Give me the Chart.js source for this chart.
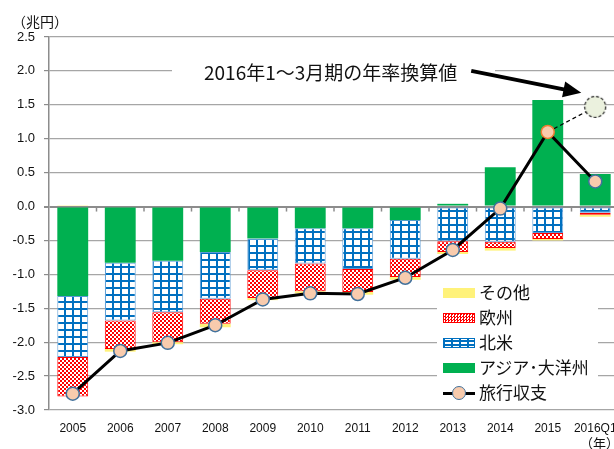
<!DOCTYPE html>
<html>
<head>
<meta charset="utf-8">
<script src="https://cdn.jsdelivr.net/npm/chart.js@4"></script>
<style>
  body { margin: 0; background: #fff; }
  #wrap { position: relative; width: 614px; height: 449px; overflow: hidden; font-family: "Noto Sans CJK JP", sans-serif; color: #111; }
  #c { position: absolute; left: 0; top: 0; }
  .txt { position: absolute; white-space: nowrap; }
  #unit { left: 12px; top: 11px; font-size: 14px; }
  #year { left: 580px; top: 433px; font-size: 13px; }
  #note { left: 204px; top: 59px; font-size: 19px; line-height: 26px; }
  #legend { position: absolute; left: 437px; top: 281px; width: 161px; height: 124px; background: #fff; }
  .item { position: absolute; left: 6px; height: 24px; font-size: 17px; line-height: 24px; }
  .sw { position: absolute; left: 0; top: 7px; width: 32px; height: 10px; box-sizing: border-box; }
  .item span.lab { position: absolute; left: 36px; top: -1px; white-space: nowrap; }
</style>
</head>
<body>
<div id="wrap">
  <canvas id="c" width="619" height="449"></canvas>
  <div class="txt" id="unit">（兆円）</div>
  <div class="txt" id="year">（年）</div>
  <div class="txt" id="note">2016年1～3月期の年率換算値</div>
  <div id="legend">
    <div class="item" style="top:0px"><div class="sw" style="background:#FFF27A"></div><span class="lab">その他</span></div>
    <div class="item" style="top:25px"><div class="sw" style="border:1px solid #f00;background-color:#fff;background-image:conic-gradient(#f00 25%,#fff 0 50%,#f00 0 75%,#fff 0);background-size:3px 3px"></div><span class="lab">欧州</span></div>
    <div class="item" style="top:50px"><div class="sw" style="border:1.5px solid #0070C0;background-color:#fff;background-image:linear-gradient(#0070C0 2px,transparent 2px),linear-gradient(90deg,#0070C0 2px,transparent 2px);background-size:8px 4px;background-position:-1px 1px"></div><span class="lab">北米</span></div>
    <div class="item" style="top:75px"><div class="sw" style="background:#00B050"></div><span class="lab">アジア･大洋州</span></div>
    <div class="item" style="top:100px">
      <div class="sw" style="top:11px;height:3px;background:#000"></div>
      <div class="sw" style="left:9px;top:5px;width:14px;height:14px;border-radius:50%;background:#F8CBAD;border:1.5px solid #41719C"></div>
      <span class="lab">旅行収支</span>
    </div>
  </div>
</div>
<script>
const years = ["2005", "2006", "2007", "2008", "2009", "2010", "2011", "2012", "2013", "2014", "2015", "2016Q1"];
const asiaOceania = [-1.32, -0.83, -0.80, -0.67, -0.47, -0.32, -0.32, -0.20, 0.04, 0.58, 1.57, 0.48];
const northAmerica = [-0.90, -0.85, -0.76, -0.69, -0.47, -0.52, -0.60, -0.57, -0.51, -0.52, -0.39, -0.09];
const europe = [-0.58, -0.42, -0.44, -0.37, -0.41, -0.41, -0.34, -0.27, -0.16, -0.09, -0.09, -0.03];
const others = [0.02, -0.04, -0.03, -0.05, -0.03, -0.03, -0.04, -0.04, -0.03, -0.04, -0.02, -0.03];
const travelBalance = [-2.76, -2.13, -2.01, -1.75, -1.37, -1.28, -1.29, -1.05, -0.64, -0.03, 1.10, 0.37];
const annualized = [null, null, null, null, null, null, null, null, null, null, 1.10, 1.47];
const yTicks = [-3.0, -2.5, -2.0, -1.5, -1.0, -0.5, 0.0, 0.5, 1.0, 1.5, 2.0, 2.5];

// patterns
function makePattern(w, h, draw) {
  const cv = document.createElement("canvas");
  cv.width = w;
  cv.height = h;
  const g = cv.getContext("2d");
  draw(g);
  return document.getElementById("c").getContext("2d").createPattern(cv, "repeat");
}
const checker = makePattern(4, 4, function (g) {
  g.fillStyle = "#fff";
  g.fillRect(0, 0, 4, 4);
  g.fillStyle = "#f00";
  g.fillRect(0, 0, 2, 2);
  g.fillRect(2, 2, 2, 2);
});
const grid = makePattern(8, 7, function (g) {
  g.fillStyle = "#fff";
  g.fillRect(0, 0, 8, 7);
  g.fillStyle = "#0070C0";
  g.fillRect(0, 0, 8, 2);
  g.fillRect(0, 0, 2, 7);
});

// dashed circle for the annualized point
const dashedDot = document.createElement("canvas");
dashedDot.width = 24;
dashedDot.height = 24;
(function () {
  const g = dashedDot.getContext("2d");
  g.beginPath();
  g.arc(12, 12, 10.5, 0, Math.PI * 2);
  g.fillStyle = "#EBF1DE";
  g.fill();
  g.setLineDash([3, 2]);
  g.lineWidth = 1.2;
  g.strokeStyle = "#222";
  g.stroke();
})();

const extras = {
  id: "extras",
  beforeDatasetsDraw(chart) {
    const ctx = chart.ctx;
    const x = chart.scales.x;
    const y = chart.scales.y;
    // white box behind the note
    ctx.save();
    ctx.fillStyle = "#fff";
    ctx.fillRect(172, 54, 323, 38);
    // tick marks on the zero line
    const y0 = y.getPixelForValue(0);
    ctx.strokeStyle = "#8c8c8c";
    ctx.lineWidth = 1.5;
    for (let i = 1; i < years.length; i++) {
      const xx = (x.getPixelForValue(i - 1) + x.getPixelForValue(i)) / 2;
      ctx.beginPath();
      ctx.moveTo(xx, y0);
      ctx.lineTo(xx, y0 + 5);
      ctx.stroke();
    }
    ctx.restore();
  },
  afterDraw(chart) {
    const ctx = chart.ctx;
    const px = chart.scales.x.getPixelForValue(11);
    const py = chart.scales.y.getPixelForValue(annualized[11]);
    const tx = px - 14, ty = py - 14;
    const sx = tx - 110, sy = ty - 22;
    const ang = Math.atan2(ty - sy, tx - sx);
    ctx.save();
    ctx.strokeStyle = "#000";
    ctx.fillStyle = "#000";
    ctx.lineWidth = 4;
    ctx.beginPath();
    ctx.moveTo(sx, sy);
    ctx.lineTo(tx - 14 * Math.cos(ang), ty - 14 * Math.sin(ang));
    ctx.stroke();
    ctx.translate(tx, ty);
    ctx.rotate(ang);
    ctx.beginPath();
    ctx.moveTo(0, 0);
    ctx.lineTo(-18, -8);
    ctx.lineTo(-18, 8);
    ctx.closePath();
    ctx.fill();
    ctx.restore();
  }
};

new Chart(document.getElementById("c"), {
  type: "bar",
  data: {
    labels: years,
    datasets: [
      {
        type: "line",
        label: "旅行収支",
        data: travelBalance,
        stack: "line1",
        order: 0,
        borderColor: "#000",
        borderWidth: 3,
        pointRadius: 6.5,
        pointBackgroundColor: "#F8CBAD",
        pointBorderColor: travelBalance.map((v, i) => (i === 10 ? "#ED7D31" : "#41719C")),
        pointBorderWidth: 1.5,
        tension: 0
      },
      {
        type: "line",
        label: "年率換算値",
        data: annualized,
        stack: "line2",
        order: 1,
        borderColor: "#000",
        borderWidth: 1.2,
        borderDash: [4, 3],
        pointRadius: (c) => (c.dataIndex === 11 ? 11 : 0),
        pointStyle: (c) => (c.dataIndex === 11 ? dashedDot : "circle"),
        tension: 0
      },
      { label: "アジア・大洋州", data: asiaOceania, stack: "bars", order: 2, backgroundColor: "#00B050", borderWidth: 0 },
      { label: "北米", data: northAmerica, stack: "bars", order: 2, backgroundColor: grid, borderColor: "#5B9BD5", borderWidth: 1, borderSkipped: false },
      { label: "欧州", data: europe, stack: "bars", order: 2, backgroundColor: checker, borderColor: "#f00", borderWidth: 1, borderSkipped: false },
      { label: "その他", data: others, stack: "bars", order: 2, backgroundColor: "#FFF27A", borderWidth: 0 }
    ]
  },
  options: {
    responsive: false,
    animation: false,
    devicePixelRatio: 1,
    layout: { autoPadding: false, padding: { top: 37, right: 0, left: 0, bottom: 0 } },
    datasets: { bar: { barPercentage: 0.65, categoryPercentage: 1 } },
    plugins: { legend: { display: false }, tooltip: { enabled: false } },
    scales: {
      x: {
        stacked: true,
        grid: { display: false, drawTicks: false },
        border: { display: false },
        ticks: { color: "#111", font: { family: "Liberation Sans Narrow, Liberation Sans", size: 12 }, padding: 11, maxRotation: 0, autoSkip: false },
        afterFit(s) {
          s.height = 39;
          s.paddingLeft = 0;
          s.paddingRight = 0;
        }
      },
      y: {
        stacked: true,
        min: -3,
        max: 2.5,
        afterBuildTicks(s) { s.ticks = yTicks.map((v) => ({ value: v })); },
        grid: {
          color: (c) => (c.tick && c.tick.value === 0 ? "#8c8c8c" : "#a6a6a6"),
          lineWidth: (c) => (c.tick && c.tick.value === 0 ? 2 : 1.2),
          tickLength: 5,
          tickColor: "#8c8c8c"
        },
        border: { color: "#8c8c8c", width: 1.5 },
        ticks: {
          color: "#111",
          font: { family: "Liberation Sans", size: 13 },
          padding: 9,
          callback: (v) => Number(v).toFixed(1)
        },
        afterFit(s) { s.width = 49; }
      }
    }
  },
  plugins: [extras]
});
</script>
</body>
</html>
